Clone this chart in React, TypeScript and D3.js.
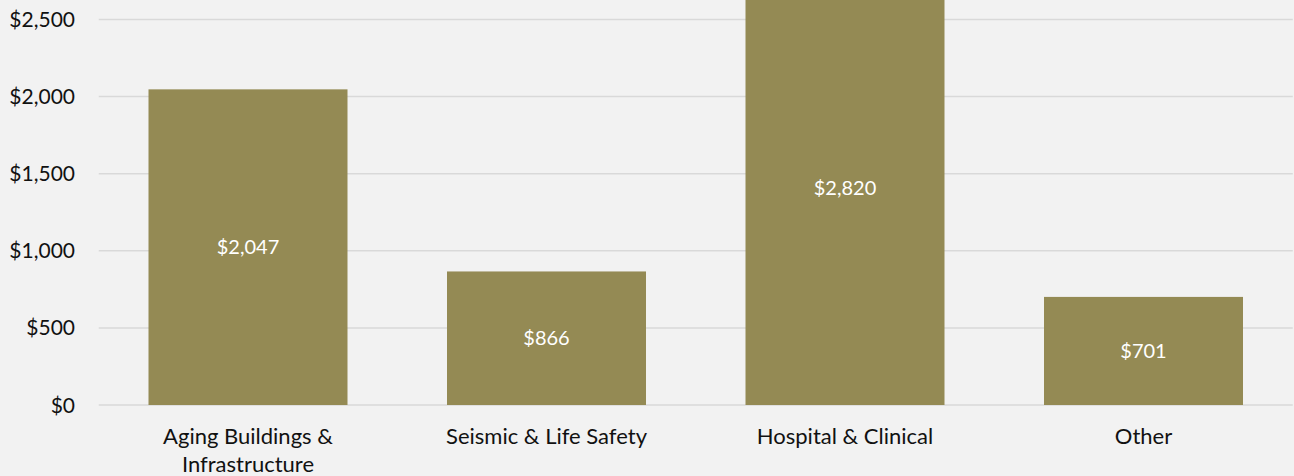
import { useEffect, useRef } from 'react';
import * as d3 from 'd3';

const categories = [
  'Aging Buildings & Infrastructure',
  'Seismic & Life Safety',
  'Hospital & Clinical',
  'Other',
];
const values = [2047, 866, 2820, 701];
const yTicks = [0, 500, 1000, 1500, 2000, 2500];

const WIDTH = 1294;
const HEIGHT = 476;
const FONT = 'Lato, "Open Sans", sans-serif';

const money = (v: number) => `$${d3.format(',')(v)}`;

export default function App() {
  const svgRef = useRef<SVGSVGElement | null>(null);

  useEffect(() => {
    document.body.style.margin = '0';
    if (!svgRef.current) return;

    const svg = d3.select(svgRef.current);
    svg.selectAll('*').remove();

    const x = d3
      .scaleBand<string>()
      .domain(categories)
      .range([98.75, 1292.75])
      .paddingInner(1 / 3)
      .paddingOuter(1 / 6);

    const y = d3.scaleLinear().domain([0, 2500]).range([405, 19.5]);

    svg
      .append('rect')
      .attr('width', WIDTH)
      .attr('height', HEIGHT)
      .attr('fill', '#f2f2f2');

    // gridlines
    svg
      .append('g')
      .selectAll('line')
      .data(yTicks)
      .join('line')
      .attr('x1', 98.75)
      .attr('x2', 1292.75)
      .attr('y1', (d) => y(d))
      .attr('y2', (d) => y(d))
      .attr('stroke', '#d9d9d9')
      .attr('stroke-width', 1.5);

    // y labels
    svg
      .append('g')
      .selectAll('text')
      .data(yTicks)
      .join('text')
      .attr('x', 75)
      .attr('y', (d) => y(d))
      .attr('dy', '0.36em')
      .attr('text-anchor', 'end')
      .attr('font-family', FONT)
      .attr('font-size', 21)
      .attr('fill', '#111111')
      .text((d) => money(d));

    // bars
    svg
      .append('g')
      .selectAll('rect')
      .data(values)
      .join('rect')
      .attr('x', (_, i) => x(categories[i]) ?? 0)
      .attr('width', x.bandwidth())
      .attr('y', (d) => y(d))
      .attr('height', (d) => y(0) - y(d))
      .attr('fill', '#948a54');

    // data labels
    svg
      .append('g')
      .selectAll('text')
      .data(values)
      .join('text')
      .attr('x', (_, i) => (x(categories[i]) ?? 0) + x.bandwidth() / 2)
      .attr('y', (d) => (y(d) + y(0)) / 2)
      .attr('dy', '0.36em')
      .attr('text-anchor', 'middle')
      .attr('font-family', FONT)
      .attr('font-size', 20)
      .attr('fill', '#ffffff')
      .text((d) => money(d));

    // category labels, wrapped to the band step
    const catG = svg.append('g');
    categories.forEach((cat) => {
      const cx = (x(cat) ?? 0) + x.bandwidth() / 2;
      const t = catG
        .append('text')
        .attr('x', cx)
        .attr('y', 444)
        .attr('text-anchor', 'middle')
        .attr('font-family', FONT)
        .attr('font-size', 22)
        .attr('fill', '#111111');
      const words = cat.split(' ');
      let line: string[] = [];
      let tspan = t.append('tspan').attr('x', cx).attr('dy', 0);
      words.forEach((w) => {
        line.push(w);
        tspan.text(line.join(' '));
        const node = tspan.node();
        if (node && node.getComputedTextLength() > x.step() * 0.9 && line.length > 1) {
          line.pop();
          tspan.text(line.join(' '));
          line = [w];
          tspan = t.append('tspan').attr('x', cx).attr('dy', 28).text(w);
        }
      });
    });
  }, []);

  return (
    <svg
      ref={svgRef}
      width={WIDTH}
      height={HEIGHT}
      style={{ display: 'block', position: 'absolute', top: 0, left: 0 }}
    />
  );
}
